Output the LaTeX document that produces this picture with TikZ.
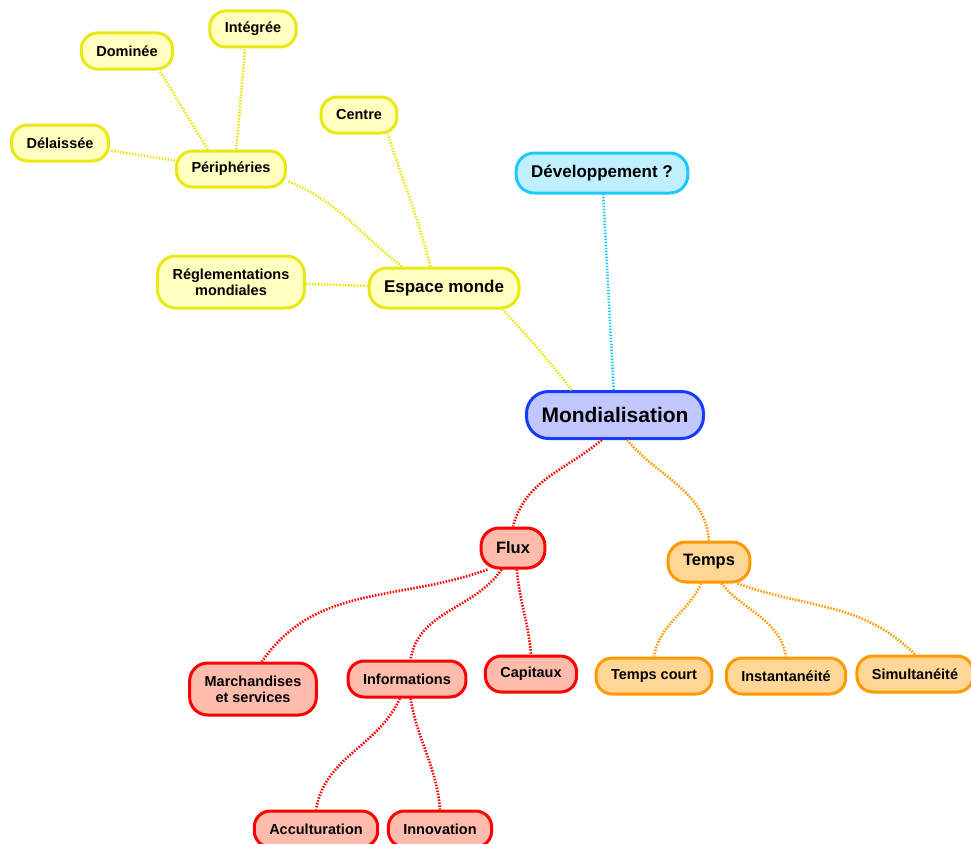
\documentclass[tikz,border=0pt]{standalone}
\usepackage{fontspec}
\setmainfont{Liberation Sans}
\usepackage{tikz}

\definecolor{ylwline}{RGB}{232,232,20}
\definecolor{ylwfill}{RGB}{255,255,192}
\definecolor{bluline}{RGB}{20,60,255}
\definecolor{blufill}{RGB}{192,200,255}
\definecolor{cyaline}{RGB}{30,200,255}
\definecolor{cyafill}{RGB}{192,240,255}
\definecolor{redline}{RGB}{255,0,0}
\definecolor{redfill}{RGB}{255,188,172}
\definecolor{orgline}{RGB}{255,153,0}
\definecolor{orgfill}{RGB}{255,214,150}

\tikzset{
  pill/.style={rectangle, rounded corners=16pt, line width=3pt, inner xsep=15pt,
    inner ysep=2pt, minimum height=36pt, align=center,
    font=\fontsize{14.5}{16}\selectfont\bfseries},
  bignode/.style={pill, minimum height=40pt, rounded corners=18pt,
    font=\fontsize{16.5}{19}\selectfont\bfseries},
  twoline/.style={minimum height=52pt, rounded corners=18pt},
  ynode/.style={pill, draw=ylwline, fill=ylwfill},
  rnode/.style={pill, draw=redline, fill=redfill},
  onode/.style={pill, draw=orgline, fill=orgfill},
  link/.style={line width=2.6pt, dash pattern=on 1.5pt off 1.5pt},
  ylink/.style={link, draw=ylwline},
  clink/.style={link, draw=cyaline},
  rlink/.style={link, draw=redline},
  olink/.style={link, draw=orgline}
}

\begin{document}
\begin{tikzpicture}[x=1pt,y=1pt]
\useasboundingbox (0,-843) rectangle (971,0);
            % Vertices
\node[pill, draw=bluline, fill=blufill, minimum height=47pt, rounded corners=22pt,
  font=\fontsize{21}{24}\selectfont\bfseries] (mond) at (615,-415) {Mondialisation};
\node[bignode, draw=cyaline, fill=cyafill, font=\fontsize{17}{20}\selectfont\bfseries] (dev) at (602,-173) {Développement ?};
\node[ynode, bignode, draw=ylwline, fill=ylwfill, font=\fontsize{17}{20}\selectfont\bfseries] (espace) at (444,-288) {Espace monde};
\node[ynode, twoline] (regl) at (231,-282) {Réglementations\\mondiales};
\node[ynode] (centre) at (359,-115) {Centre};
\node[ynode] (periph) at (231,-169) {Périphéries};
\node[ynode] (delaissee) at (60,-143) {Délaissée};
\node[ynode] (dominee) at (127,-51) {Dominée};
\node[ynode] (integree) at (253,-29) {Intégrée};
\node[bignode, draw=redline, fill=redfill] (flux) at (513,-548) {Flux};
\node[bignode, draw=orgline, fill=orgfill] (temps) at (709,-562) {Temps};
\node[rnode, twoline] (march) at (253,-689) {Marchandises\\et services};
\node[rnode] (info) at (407,-679) {Informations};
\node[rnode] (capitaux) at (531,-674) {Capitaux};
\node[rnode] (accult) at (316,-829) {Acculturation};
\node[rnode] (innov) at (440,-829) {Innovation};
\node[onode] (court) at (654,-676) {Temps court};
\node[onode] (instant) at (786,-676) {Instantanéité};
\node[onode] (simult) at (915,-674) {Simultanéité};
%Links
\draw[clink] (mond) -- (dev);
\draw[ylink] (mond.150) to[out=128,in=-48] (espace.-20);
\draw[rlink] (mond.-118) to[out=-140,in=75] (flux.north);
\draw[olink] (mond.-64) to[out=-50,in=95] (temps.north);
\draw[ylink] (espace.122) to[out=105,in=-72] (centre.-34);
\draw[ylink] (espace.153) to[out=142,in=-22] (periph.-12);
\draw[ylink] (espace) -- (regl);
\draw[ylink] (periph) -- (delaissee);
\draw[ylink] (periph.140) -- (dominee.-31);
\draw[ylink] (periph.75) -- (integree.-112);
\draw[rlink] (flux.-140) to[out=-160,in=55] (march.72);
\draw[rlink] (flux.-118) to[out=-125,in=80] (info.80);
\draw[rlink] (flux.-80) to[out=-85,in=95] (capitaux.north);
\draw[rlink] (info.-110) to[out=-115,in=80] (accult.north);
\draw[rlink] (info.-80) to[out=-80,in=95] (innov.north);
\draw[olink] (temps.-110) to[out=-115,in=80] (court.north);
\draw[olink] (temps.-60) to[out=-50,in=100] (instant.north);
\draw[olink] (temps.-37) to[out=-20,in=135] (simult.north);
\end{tikzpicture}
\end{document}
